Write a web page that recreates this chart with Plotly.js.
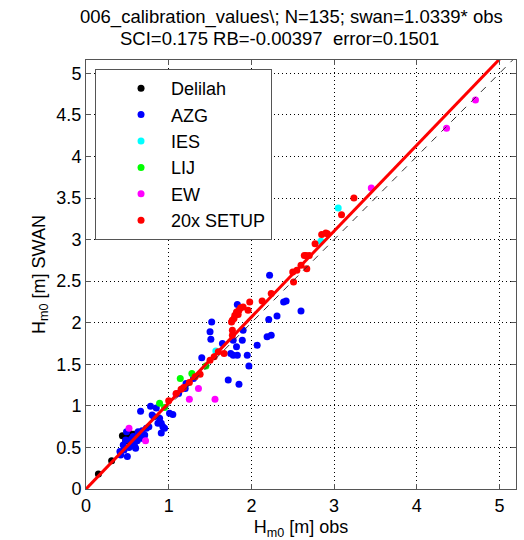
<!DOCTYPE html>
<html>
<head>
<meta charset="utf-8">
<script src="https://cdn.plot.ly/plotly-3.0.1.min.js"></script>
<style>html,body{margin:0;padding:0;background:#fff;}#chart{width:524px;height:540px;}</style>
</head>
<body>
<div id="chart"></div>
<script>
const titleLine1 = "006_calibration_values\\; N=135; swan=1.0339* obs";
const titleLine2 = "SCI=0.175 RB=-0.00397  error=0.1501";
const seriesNames = ["Delilah", "AZG", "IES", "LIJ", "EW", "20x SETUP"];
const seriesColors = ["#000000", "#0000ff", "#00ffff", "#00ff00", "#ff00ff", "#ff0000"];
const fitSlope = 1.0339;
const lineX = [0, 5.2];
const xTicks = [0, 1, 2, 3, 4, 5];
const yTicks = [0, 0.5, 1, 1.5, 2, 2.5, 3, 3.5, 4, 4.5, 5];

const delilahX = [0.15, 0.31, 0.44, 0.48, 0.53, 0.58, 0.62, 0.50];
const delilahY = [0.18, 0.34, 0.64, 0.58, 0.67, 0.66, 0.63, 0.61];

const azgX = [0.41,0.42,0.45,0.46,0.48,0.49,0.50,0.52,0.56,0.57,0.59,0.60,0.63,0.64,0.66,0.67,0.70,0.71,0.73,0.76,0.78,0.80,0.82,0.85,0.87,0.89,0.91,0.91,0.93,0.95,1.01,1.05,1.20,1.21,1.40,1.50,1.51,1.52,1.65,1.72,1.75,1.78,1.78,1.82,1.83,1.83,1.85,1.89,1.90,1.95,1.97,2.07,2.19,2.21,2.22,2.24,2.31,2.39,2.42,2.60,0.55,0.62,0.68,1.12,1.30];
const azgY = [0.45,0.41,0.53,0.47,0.59,0.69,0.39,0.50,0.55,0.63,0.51,0.49,0.69,0.65,0.935,0.61,0.61,0.65,0.73,0.75,0.995,0.89,0.87,0.975,0.79,0.85,0.79,0.675,0.75,0.73,0.91,0.895,1.21,1.27,1.58,1.89,1.80,2.01,1.75,1.31,1.63,1.61,1.79,1.71,1.61,2.22,1.26,1.79,1.91,1.61,1.48,1.73,1.83,2.04,2.57,1.85,2.08,2.25,2.26,2.14,0.60,0.58,0.70,1.15,1.33];

const iesX = [1.57, 2.84, 3.05];
const iesY = [1.66, 2.98, 3.38];

const lijX = [0.89, 1.14, 1.28, 1.45, 0.95];
const lijY = [1.03, 1.33, 1.39, 1.48, 0.98];

const ewX = [0.52, 0.72, 1.09, 1.25, 1.36, 1.56, 3.45, 4.36, 4.71];
const ewY = [0.73, 0.58, 1.14, 1.08, 1.21, 1.08, 3.62, 4.34, 4.68];

const setupX = [1.00,1.09,1.18,1.32,1.38,1.55,1.67,1.76,1.77,1.80,1.82,1.85,1.90,1.96,1.98,1.77,1.77,2.13,2.24,2.50,2.51,2.60,2.64,2.67,2.70,2.77,2.85,2.90,3.09,3.24,1.79,1.84,1.87,2.66,2.92,1.50,1.15,2.55,1.25,1.60];
const setupY = [1.06,1.15,1.22,1.35,1.38,1.59,1.63,2.01,2.03,2.09,2.13,2.15,2.19,2.15,2.25,1.91,1.85,2.26,2.35,2.61,2.49,2.69,2.81,2.65,2.81,2.95,3.06,3.08,3.30,3.50,2.05,2.10,2.18,2.81,3.07,1.55,1.20,2.63,1.28,1.65];

const seriesX = [delilahX, azgX, iesX, lijX, ewX, setupX];
const seriesY = [delilahY, azgY, iesY, lijY, ewY, setupY];

const font = "Liberation Sans, Arial, sans-serif";
const traces = [];
seriesNames.forEach((n, i) => {
  traces.push({
    type: "scatter", mode: "markers", name: n,
    x: seriesX[i], y: seriesY[i],
    marker: {color: seriesColors[i], size: 7, line: {width: 0}}
  });
});
traces.push({type: "scatter", mode: "lines", x: lineX, y: lineX, showlegend: false,
  line: {color: "#333333", width: 1, dash: "7px,7px"}, hoverinfo: "skip"});
traces.push({type: "scatter", mode: "lines", x: lineX, y: lineX.map(v => v * fitSlope), showlegend: false,
  line: {color: "#ff0000", width: 3}, hoverinfo: "skip"});

const axisCommon = {
  showline: true, linecolor: "#555555", linewidth: 1, mirror: "ticks",
  ticks: "inside", ticklen: 5, tickcolor: "#555555",
  showgrid: true, gridcolor: "#000000", gridwidth: 1, griddash: "1px,3px",
  zeroline: false, tickfont: {family: font, size: 18, color: "#000"}
};

const layout = {
  width: 524, height: 540,
  margin: {l: 86, r: 8, t: 60, b: 51},
  paper_bgcolor: "#fff", plot_bgcolor: "#fff",
  font: {family: font, color: "#000"},
  xaxis: Object.assign({}, axisCommon, {
    range: [0, 5.2], tickvals: xTicks, ticktext: xTicks.map(String),
    title: {text: "H<sub>m0</sub> [m] obs", font: {family: font, size: 18}, standoff: 6}
  }),
  yaxis: Object.assign({}, axisCommon, {
    range: [0, 5.16], tickvals: yTicks, ticktext: yTicks.map(String),
    title: {text: "H<sub>m0</sub> [m] SWAN", font: {family: font, size: 18}, standoff: 6}
  }),
  legend: {
    x: 0.021, y: 0.979, xanchor: "left", yanchor: "top",
    bgcolor: "#ffffff", bordercolor: "#555555", borderwidth: 1,
    font: {family: font, size: 18, color: "#000"},
    itemwidth: 50, indentation: 15, tracegroupgap: 0
  },
  showlegend: true,
  annotations: [
    {text: titleLine1, xref: "paper", yref: "paper", x: 0.477, y: 1.10, xanchor: "center", yanchor: "middle",
     showarrow: false, font: {family: font, size: 18.5, color: "#000"}},
    {text: titleLine2, xref: "paper", yref: "paper", x: 0.45, y: 1.05, xanchor: "center", yanchor: "middle",
     showarrow: false, font: {family: font, size: 18.5, color: "#000"}}
  ]
};

Plotly.newPlot("chart", traces, layout, {staticPlot: true, displayModeBar: false});
</script>
</body>
</html>
